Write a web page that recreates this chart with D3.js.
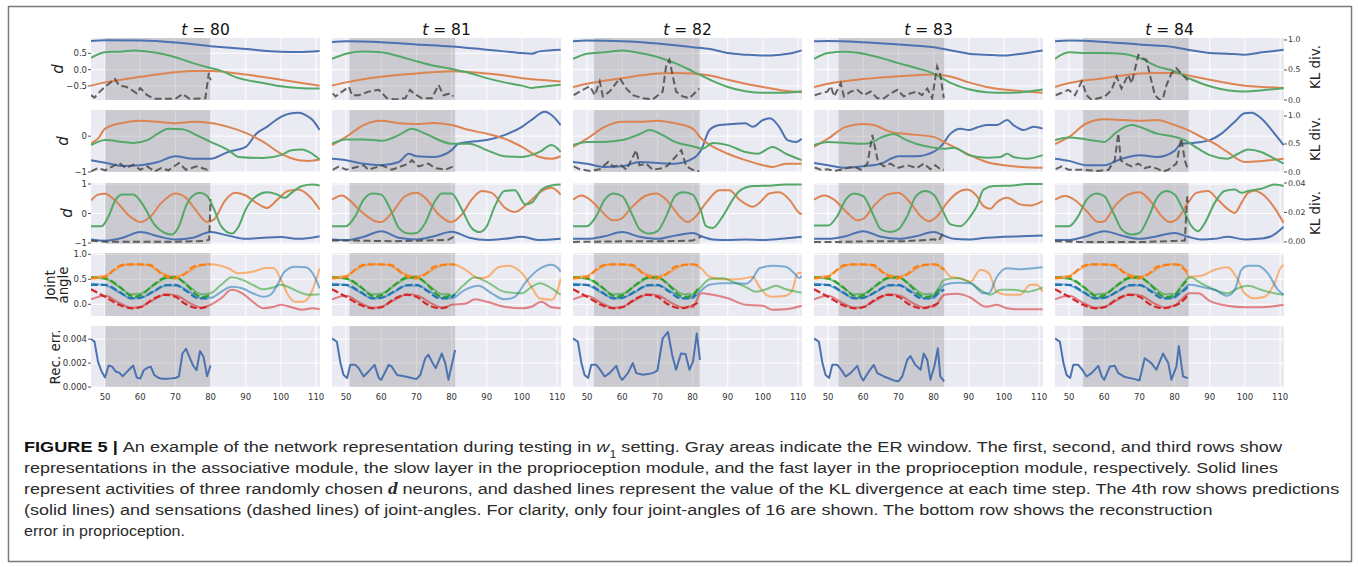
<!DOCTYPE html>
<html><head><meta charset="utf-8">
<script src="https://cdn.jsdelivr.net/npm/d3@7"></script>
<style>body{margin:0;background:#fff}svg{display:block}</style>
</head><body><svg id="c" width="1358" height="567"></svg>
<script>
// ---------- column labels ----------
const tValues = [80, 81, 82, 83, 84];
const xTicks = [50, 60, 70, 80, 90, 100, 110];
const leftTicks = [[-0.5, 0, 0.5], [-1, 0], [-1, 0, 1], [0, 0.5, 1.0], [0, 0.002, 0.004]];
const rightTicks = [[0, 0.5, 1.0], [0, 0.5, 1.0], [0, 0.02, 0.04]];

// ---------- t = 80 ----------
const a80Blue = [[46,0.88],[50,0.9],[60,0.89],[70,0.83],[80,0.72],[90,0.63],[100,0.55],[105,0.54],[111,0.57]];
const a80Orange = [[46,-0.49],[50,-0.39],[60,-0.22],[70,-0.08],[75,-0.04],[80,-0.04],[90,-0.15],[100,-0.31],[111,-0.49]];
const a80Green = [[46,0.36],[50,0.53],[55,0.56],[58,0.59],[65,0.51],[70,0.38],[75,0.2],[80,0.05],[82,0],[88,-0.26],[95,-0.41],[100,-0.51],[105,-0.56],[111,-0.58]];
const a80KL = [[46,0.08],[47,0.04],[48,0.11],[50,0.22],[52.8,0.35],[54,0.24],[56,0.22],[57,0.19],[59,0.11],[60,0.2],[62,0.08],[64,0.02],[70,0.02],[72,0.1],[74,0.02],[78.5,0.03],[79.5,0.45],[80,0.33]];
const s80Blue = [[46,-0.67],[50,-0.74],[55,-0.83],[60,-0.81],[65,-0.72],[70,-0.56],[75,-0.63],[80,-0.63],[85,-0.44],[90,-0.3],[93,0.07],[96,0.26],[100,0.54],[103,0.64],[105,0.65],[107,0.59],[109,0.45],[111,0.17]];
const s80Orange = [[46,-0.2],[48,-0.07],[50,0.21],[55,0.37],[60,0.43],[65,0.4],[70,0.36],[75,0.4],[80,0.37],[85,0.26],[90,0.09],[95,-0.16],[100,-0.49],[105,-0.67],[108,-0.69],[111,-0.65]];
const s80Green = [[46,-0.25],[48,-0.16],[50,-0.11],[55,-0.16],[58,-0.19],[62,-0.11],[65,0.07],[68,0.21],[72,0.19],[76,0.03],[80,-0.16],[85,-0.39],[88,-0.58],[95,-0.61],[100,-0.53],[103,-0.39],[106,-0.37],[108,-0.44],[111,-0.65]];
const s80KL = [[46,0.01],[48,0.07],[50,0.03],[54,0.16],[56,0.07],[58,0.13],[60,0.04],[62,0.1],[64,0.01],[66,0.07],[68,0.03],[71,0.16],[73,0.04],[76,0.1],[79,0.04],[80,0.07]];
const f80Blue = [[46,-0.88],[50,-0.92],[55,-0.82],[60,-0.63],[65,-0.77],[70,-0.88],[75,-0.82],[80,-0.63],[85,-0.75],[90,-0.86],[95,-0.82],[100,-0.8],[105,-0.86],[111,-0.77]];
const f80Orange = [[46,0.44],[48,0.64],[50,0.67],[53,0.42],[57,-0.09],[60,-0.29],[63,-0.09],[66,0.36],[70,0.68],[73,0.53],[76,0.08],[79,-0.29],[81,-0.2],[84,0.42],[87,0.7],[90,0.61],[93,0.36],[96,0.19],[99,0.47],[102,0.76],[105,0.81],[108,0.59],[111,0.14]];
const f80Green = [[46,-0.43],[49,-0.43],[51,-0.09],[53,0.47],[55,0.64],[58,0.64],[61,0.25],[64,-0.37],[67,-0.66],[69,-0.71],[71,-0.43],[73,0.25],[75,0.61],[77,0.7],[79,0.59],[81,0.14],[83,-0.43],[86,-0.68],[88,-0.43],[90,0.14],[93,0.59],[96,0.72],[99,0.64],[101,0.53],[103,0.7],[106,0.93],[109,0.98],[111,0.95]];
const f80KL = [[46,0.0008],[50,0.0002],[60,0.0002],[70,0.0002],[78,0.0006],[79.6,0.0015],[80,0.029]];
const jp80Orange = [[80,0.8],[85,0.72],[88,0.62],[92,0.65],[96,0.73],[98,0.72],[100,0.49],[102,0.19],[104,0.05],[106,0.05],[108,0.15],[110,0.49],[111,0.72]];
const jp80Green = [[80,0.22],[83,0.39],[86,0.54],[89,0.49],[92,0.39],[95,0.3],[98,0.34],[100,0.39],[102,0.35],[105,0.25],[108,0.19],[111,0.2]];
const jp80Blue = [[80,0.13],[83,0.25],[86,0.35],[89,0.32],[92,0.22],[95,0.15],[97,0.19],[99,0.39],[101,0.65],[104,0.75],[107,0.74],[109,0.62],[111,0.32]];
const jp80Red = [[80,-0.01],[83,0.12],[86,0.29],[89,0.22],[92,0.05],[95,-0.08],[98,-0.05],[100,-0.01],[103,-0.06],[106,-0.11],[109,-0.08],[111,-0.1]];
const rec80 = [[46,0.004],[47,0.0038],[48,0.0021],[49,0.0013],[50,0.0008],[51,0.0018],[52,0.0017],[53,0.0013],[54,0.0012],[55,0.0009],[56,0.0012],[57,0.0015],[58,0.0018],[59,0.0008],[60,0.0007],[61,0.0014],[62,0.0016],[63,0.0017],[64,0.001],[65,0.0008],[66,0.0007],[68,0.0007],[70,0.00075],[71,0.0009],[72,0.0028],[73,0.0032],[74,0.0025],[75,0.0018],[76,0.0014],[77,0.003],[78,0.0025],[79,0.0009],[80,0.0018]];

// ---------- t = 81 ----------
const a81Blue = [[46,0.85],[50,0.87],[60,0.84],[70,0.77],[80,0.71],[90,0.61],[95,0.56],[100,0.51],[102.7,0.49],[105,0.56],[111,0.61]];
const a81Orange = [[46,-0.49],[50,-0.39],[60,-0.22],[70,-0.12],[80,-0.05],[85,-0.07],[90,-0.12],[95,-0.18],[100,-0.26],[105,-0.31],[111,-0.36]];
const a81Green = [[46,0.33],[50,0.49],[55,0.56],[60,0.53],[65,0.41],[70,0.26],[75,0.12],[80,0.02],[85,-0.1],[90,-0.26],[95,-0.39],[100,-0.49],[102.7,-0.56],[105,-0.53],[111,-0.46]];
const a81KL = [[46.2,0.11],[47,0.06],[48.4,0.12],[50.8,0.22],[51.7,0.08],[53.6,0.08],[56.4,0.14],[59.3,0.17],[61.6,0.03],[64,0.01],[66.8,0.03],[68.2,0.17],[69.2,0.11],[71.5,0.03],[74.4,0.03],[76.3,0.25],[77.7,0.08],[79.6,0.11],[80.5,0.06]];
const s81Blue = [[46,-0.63],[50,-0.67],[55,-0.77],[60,-0.81],[65,-0.72],[67.8,-0.49],[70,-0.56],[75,-0.58],[80,-0.39],[81.9,-0.21],[85,-0.16],[90,-0.11],[95,0.03],[100,0.26],[102.7,0.45],[106.5,0.68],[108.4,0.59],[111,0.31]];
const s81Orange = [[46,-0.25],[50,-0.02],[55,0.31],[60,0.43],[65,0.36],[70,0.34],[75,0.37],[80,0.31],[85,0.17],[90,0.07],[95,-0.07],[100,-0.3],[105,-0.58],[108.4,-0.63],[111,-0.56]];
const s81Green = [[46,-0.21],[50,-0.09],[55,-0.09],[60,-0.13],[65,0.03],[68.7,0.21],[72.5,0.07],[80,-0.21],[85,-0.21],[90,-0.39],[95,-0.56],[100,-0.58],[105,-0.44],[108.4,-0.25],[111,-0.44]];
const s81KL = [[46.2,0.04],[48,0.1],[50,0.04],[53.6,0.1],[55,0.12],[56.4,0.04],[60.2,0.12],[63,0.04],[67.8,0.15],[68.7,0.21],[70.6,0.1],[73.4,0.15],[75.3,0.07],[78.2,0.04],[80.5,0.1]];
const f81Blue = [[46,-0.88],[50,-0.9],[55,-0.79],[60,-0.6],[65,-0.82],[70,-0.88],[75,-0.77],[80,-0.62],[85,-0.82],[90,-0.9],[95,-0.86],[100,-0.79],[105,-0.9],[111,-0.86]];
const f81Orange = [[46,0.47],[48.8,0.61],[50.8,0.47],[53.6,0.14],[58.3,-0.26],[60,-0.29],[63,0.02],[66.8,0.59],[70,0.7],[72.5,0.53],[76.3,-0.03],[80,-0.29],[82.9,-0.03],[85.7,0.47],[88.6,0.76],[91.4,0.7],[95.2,0.19],[98,0.05],[101.8,0.36],[105.6,0.76],[108.4,0.87],[111,0.64]];
const f81Green = [[46,-0.43],[50,-0.43],[52.6,-0.09],[55,0.47],[57.4,0.68],[60,0.64],[62.6,0.14],[65,-0.49],[67.8,-0.68],[70,-0.66],[72.5,-0.32],[75,0.36],[77.2,0.68],[80,0.68],[82.9,0.14],[85.7,-0.49],[87.9,-0.63],[90,-0.43],[92.3,0.25],[95,0.76],[98,0.79],[100.9,0.31],[102.7,0.36],[105.6,0.81],[108.4,0.95],[111,0.98]];
const f81KL = [[46,0.0009],[53,0.0009],[63,0.0005],[72,0.0009],[79,0.0014],[80.7,0.0036]];
const jp81Orange = [[80,0.8],[81,0.79],[84,0.69],[87.6,0.52],[90,0.54],[93.3,0.74],[96.1,0.77],[100,0.62],[102.7,0.35],[105,0.12],[108.4,0.09],[110.3,0.32],[111,0.52]];
const jp81Green = [[80,0.17],[82.9,0.35],[86.7,0.54],[90,0.45],[95,0.25],[100,0.22],[102.7,0.35],[105,0.42],[108.4,0.32],[111,0.19]];
const jp81Blue = [[80,0.12],[83.8,0.29],[87.6,0.37],[91.4,0.22],[95,0.1],[98,0.15],[100.8,0.42],[104.6,0.69],[108.4,0.79],[110.3,0.72],[111,0.65]];
const jp81Red = [[80,-0.01],[83.8,0.01],[86.7,0.1],[90,0.05],[95,-0.05],[100,-0.08],[102.7,-0.05],[105.5,0.05],[108.4,-0.06],[111,-0.08]];
const rec81 = [[46,0.00406],[47.4,0.00378],[48.4,0.002],[49.3,0.001],[50.3,0.00075],[51.2,0.00185],[52.6,0.00185],[53.6,0.00157],[55,0.00088],[56.4,0.0013],[58.1,0.00185],[59.3,0.00075],[60,0.0006],[61.2,0.0013],[62.1,0.00185],[63,0.0017],[64.5,0.001],[66.8,0.00088],[68.7,0.00075],[70,0.00066],[71.1,0.001],[72.5,0.0024],[73.4,0.0027],[74.6,0.002],[75.5,0.00157],[77.2,0.0028],[78.2,0.002],[79.1,0.0006],[81,0.0031]];

// ---------- t = 82 ----------
const a82Blue = [[46,0.87],[50,0.89],[60,0.87],[70,0.8],[80,0.69],[85,0.63],[90,0.51],[95,0.46],[100,0.43],[105,0.46],[108.4,0.51],[111,0.59]];
const a82Orange = [[46,-0.53],[50,-0.43],[60,-0.26],[70,-0.12],[75,-0.1],[80,-0.12],[85,-0.18],[90,-0.31],[95,-0.43],[100,-0.53],[105,-0.63],[111,-0.69]];
const a82Green = [[46,0.33],[50,0.49],[55,0.53],[60,0.59],[65,0.51],[70,0.39],[75,0.2],[80,-0.05],[85,-0.31],[90,-0.53],[95,-0.66],[100,-0.71],[105,-0.71],[111,-0.66]];
const a82KL = [[46.2,0.08],[47.9,0.14],[50.8,0.23],[52.2,0.08],[53.6,0.31],[54.5,0.06],[56.4,0.14],[59.3,0.36],[61.2,0.19],[63,0.08],[65.9,0.03],[68.7,0.01],[71.5,0.14],[72.5,0.58],[73.4,0.67],[74.4,0.39],[75.3,0.14],[77.2,0.06],[79.1,0.03],[81.9,0.19]];
const s82Blue = [[46,-0.72],[50,-0.77],[55,-0.86],[60,-0.84],[65,-0.72],[70,-0.75],[75,-0.77],[80,-0.63],[82.4,-0.39],[84.8,0.17],[87.6,0.31],[91.4,0.34],[95,0.36],[97.1,0.26],[100,0.45],[102,0.5],[104.6,0.26],[107,-0.11],[109.4,-0.16],[111,-0.07]];
const s82Orange = [[46,-0.3],[50,-0.07],[55,0.26],[60,0.4],[65,0.4],[70,0.43],[75,0.36],[80,0.21],[82.9,-0.11],[85,-0.25],[90,-0.49],[95,-0.67],[100,-0.81],[102.7,-0.86],[106.5,-0.77],[111,-0.77]];
const s82Green = [[46,-0.25],[50,-0.16],[55,-0.16],[60,-0.11],[65,0.06],[67.8,0.17],[71.5,0.03],[75,-0.16],[80,-0.28],[82.9,-0.35],[85.7,-0.19],[90,-0.25],[95,-0.44],[98.5,-0.49],[102.7,-0.3],[106.5,-0.49],[111,-0.67]];
const s82KL = [[46.2,0.1],[47.9,0.05],[50.8,0.02],[53.6,0.05],[56,0.18],[57.4,0.1],[59.7,0.12],[61.2,0.04],[63,0.27],[64,0.39],[64.9,0.12],[66.8,0.15],[68.7,0.04],[71.5,0.07],[73,0.12],[76.8,0.39],[78.2,0.1],[80,0.04],[81.9,0.01]];
const f82Blue = [[46,-0.86],[50,-0.86],[55,-0.77],[60,-0.63],[65,-0.79],[70,-0.86],[75,-0.75],[80,-0.66],[82.9,-0.79],[85.7,-0.88],[90,-0.9],[95,-0.88],[100,-0.9],[105,-0.86],[111,-0.79]];
const f82Orange = [[46,0.47],[48.4,0.61],[50.8,0.47],[53.6,0.14],[57.4,-0.23],[59.3,-0.2],[63,0.25],[66.8,0.61],[69.7,0.68],[72.5,0.47],[76.3,-0.09],[78.6,-0.29],[81,-0.09],[83.8,0.36],[87.6,0.79],[90.5,0.79],[93.3,0.47],[97.1,0.23],[99,0.36],[101.8,0.68],[104.6,0.72],[107.5,0.47],[110.3,0.02],[111,-0.03]];
const f82Green = [[46,-0.43],[50,-0.43],[52.6,-0.09],[55,0.47],[57.4,0.68],[60,0.59],[62.6,0.02],[65,-0.54],[67.8,-0.68],[70,-0.6],[72.5,-0.09],[75,0.59],[77.2,0.72],[80,0.64],[82.4,0.08],[83.8,-0.43],[85.7,-0.49],[88.6,-0.09],[91.4,0.47],[93.3,0.76],[97.1,0.93],[102.7,0.95],[106.5,0.98],[111,0.98]];
const f82KL = [[46,0],[53,0.0002],[63,0.0005],[72,0.0005],[80,0.0009],[81.5,0.0025],[82.4,0.0036]];
const jp82Orange = [[80,0.8],[82.4,0.72],[84.8,0.55],[88.6,0.5],[92.3,0.5],[95,0.52],[97.1,0.55],[99,0.35],[100.9,0.19],[102.7,0.15],[106.5,0.17],[108.4,0.29],[109.8,0.62],[111,0.63]];
const jp82Green = [[80,0.19],[82,0.32],[84.8,0.5],[88.6,0.52],[91.4,0.45],[95,0.35],[98,0.25],[100.9,0.3],[103.7,0.37],[106.5,0.3],[111,0.23]];
const jp82Blue = [[80,0.12],[82,0.25],[84.8,0.39],[88.6,0.42],[92.3,0.42],[95.2,0.41],[97.1,0.52],[99,0.72],[102.7,0.77],[106.5,0.75],[108.9,0.62],[110.3,0.52],[111,0.57]];
const jp82Red = [[80,-0.06],[82.4,0.22],[85.7,0.19],[90,0.12],[95,-0.01],[100,-0.03],[102.7,-0.11],[106.5,-0.1],[111,-0.03]];
const rec82 = [[46,0.00406],[47.4,0.00378],[48.4,0.002],[49.3,0.001],[50.3,0.00075],[51.2,0.00185],[52.6,0.00185],[53.6,0.00149],[55,0.00088],[56.4,0.00116],[58.3,0.00177],[59.3,0.00088],[60,0.0006],[61.6,0.00116],[63,0.002],[64,0.00116],[65.9,0.00102],[68.7,0.00116],[70,0.00138],[71.5,0.00406],[73,0.0046],[74.2,0.00268],[75.3,0.00144],[76.7,0.0028],[78,0.00276],[79.1,0.00144],[80.1,0.00213],[81.2,0.00447],[82.1,0.00226]];

// ---------- t = 83 ----------
const a83Blue = [[46,0.87],[50,0.88],[60,0.84],[70,0.77],[80,0.69],[85,0.59],[90,0.49],[95,0.46],[100,0.43],[105,0.49],[111,0.59]];
const a83Orange = [[46,-0.53],[50,-0.43],[60,-0.29],[70,-0.2],[75,-0.17],[80,-0.15],[85,-0.22],[90,-0.39],[95,-0.53],[100,-0.61],[105,-0.66],[111,-0.71]];
const a83Green = [[46,0.33],[50,0.51],[55,0.55],[60,0.49],[65,0.36],[70,0.2],[75,0.05],[80,-0.12],[82.9,-0.29],[85,-0.41],[90,-0.6],[95,-0.69],[100,-0.71],[105,-0.69],[111,-0.61]];
const a83KL = [[46.2,0.08],[47.9,0.11],[49.8,0.14],[50.8,0.23],[51.7,0.06],[53.6,0.28],[54.5,0.06],[56.4,0.14],[58.3,0.17],[60.2,0.08],[62.1,0.14],[64,0.03],[65.9,0.03],[67.8,0.11],[69.7,0.17],[71.5,0.06],[73.4,0.11],[75.3,0.14],[76.7,0.08],[78.2,0.19],[79.6,0.03],[81,0.56],[81.9,0.42],[82.9,0.03]];
const s83Blue = [[46,-0.75],[50,-0.81],[55,-0.88],[60,-0.84],[65,-0.77],[67.8,-0.63],[70,-0.56],[75,-0.56],[80,-0.44],[82.4,-0.25],[84.8,0.07],[87.6,0.21],[90,0.17],[92.3,0.24],[95,0.31],[98,0.31],[100.9,0.45],[102.7,0.31],[105.6,0.17],[108.4,0.26],[111,0.21]];
const s83Orange = [[46,-0.3],[50,-0.07],[55,0.26],[60,0.34],[63,0.31],[67.8,0.12],[72.5,0.06],[80,-0.02],[83.8,-0.21],[87.6,-0.39],[91.4,-0.58],[95,-0.72],[100,-0.81],[105,-0.86],[111,-0.88]];
const s83Green = [[46,-0.25],[50,-0.16],[55,-0.19],[60,-0.21],[62.1,-0.19],[65,-0.04],[68.7,0.06],[71.5,-0.07],[75,-0.21],[80,-0.32],[82.9,-0.35],[85.7,-0.32],[90,-0.53],[95,-0.6],[99,-0.58],[100.9,-0.49],[102.7,-0.58],[106.5,-0.63],[111,-0.53]];
const s83KL = [[46.2,0.08],[47.9,0.04],[49.8,0.05],[51.7,0.02],[53.6,0.04],[57.4,0.1],[59.3,0.04],[61.2,0.15],[62.6,0.66],[63.5,0.39],[64.2,0.18],[65.9,0.1],[67.8,0.15],[69.7,0.07],[72.5,0.12],[75.3,0.07],[77.2,0.15],[79.1,0.05],[80.5,0.12],[81.9,0.05],[82.9,0.04]];
const f83Blue = [[46,-0.86],[50,-0.86],[55,-0.77],[60,-0.6],[65,-0.79],[70,-0.86],[75,-0.77],[80,-0.63],[83.3,-0.77],[85.7,-0.86],[90,-0.88],[95,-0.82],[100,-0.79],[105,-0.77],[111,-0.75]];
const f83Orange = [[46,0.47],[48.9,0.61],[51.7,0.47],[55,0.08],[58.3,-0.23],[60,-0.18],[63,0.25],[66.8,0.64],[70,0.7],[73.4,0.36],[76.3,-0.09],[78.6,-0.26],[81,-0.09],[83.8,0.36],[86.7,0.7],[89.5,0.81],[92.3,0.59],[94.2,0.25],[96.1,0.16],[98,0.38],[100.9,0.53],[104.6,0.31],[107.5,0.27],[111,0.42]];
const f83Green = [[46,-0.41],[50,-0.41],[52.6,-0.09],[55,0.47],[57.4,0.68],[60,0.59],[62.6,0.02],[65,-0.54],[67.8,-0.63],[70,-0.54],[72.5,-0.09],[75,0.59],[77.7,0.76],[80,0.64],[82.4,0.14],[84.8,-0.37],[87.6,-0.43],[90.5,-0.09],[92.3,0.25],[94.2,0.81],[97.1,0.93],[102.7,0.95],[106.5,1.0],[111,1.0]];
const f83KL = [[46,0],[53,0],[63,0.0005],[72,0.0005],[78.2,0.0014],[80.1,0.0018],[81.5,0.0009],[82.4,0.0047],[83.1,0.0032]];
const jp83Orange = [[80,0.8],[83.1,0.69],[84.8,0.55],[87.6,0.52],[90.5,0.45],[93.3,0.69],[95.7,0.62],[98,0.25],[100.9,0.19],[104.6,0.19],[107.5,0.39],[109.4,0.39],[111,0.25]];
const jp83Green = [[80,0.19],[83.1,0.49],[86.7,0.52],[90,0.45],[93.3,0.29],[96.1,0.19],[99,0.29],[102.7,0.29],[106.5,0.25],[111,0.34]];
const jp83Blue = [[80,0.12],[83.1,0.39],[86.7,0.43],[90.5,0.42],[94.2,0.22],[95.7,0.22],[98,0.55],[100.9,0.72],[104.6,0.7],[108.4,0.72],[111,0.74]];
const jp83Red = [[80,-0.05],[83.1,0.19],[86.7,0.21],[90,0.15],[95,-0.05],[98,-0.01],[100.9,-0.08],[104.6,-0.1],[111,-0.1]];
const rec83 = [[46,0.00406],[47.4,0.00378],[48.4,0.002],[49.3,0.001],[50.3,0.00075],[51.2,0.00185],[52.6,0.00185],[53.6,0.00149],[55,0.00088],[56.4,0.00116],[58.3,0.00177],[59.3,0.00088],[60,0.00055],[61.6,0.0013],[63,0.00185],[64,0.00116],[65.9,0.00088],[68.7,0.00055],[70,0.00047],[71.1,0.00088],[72.5,0.00226],[73.4,0.00259],[74.8,0.00185],[76.3,0.00144],[77.2,0.0028],[78.2,0.00226],[79.1,0.00061],[80.2,0.00171],[81.2,0.00323],[81.9,0.00088],[83,0.00047]];

// ---------- t = 84 ----------
const a84Blue = [[46,0.87],[50,0.89],[60,0.85],[70,0.77],[80,0.69],[85,0.59],[90,0.51],[95,0.49],[100,0.46],[105,0.53],[111,0.61]];
const a84Orange = [[46,-0.53],[50,-0.41],[60,-0.26],[70,-0.12],[75,-0.1],[80,-0.1],[85,-0.2],[90,-0.31],[95,-0.41],[100,-0.49],[105,-0.53],[111,-0.56]];
const a84Green = [[46,0.33],[50,0.53],[55,0.51],[60,0.51],[65,0.49],[70,0.36],[75,0.1],[80,-0.05],[85,-0.31],[90,-0.51],[95,-0.63],[100,-0.67],[105,-0.63],[111,-0.57]];
const a84KL = [[46.2,0.08],[47.9,0.12],[49.8,0.17],[51.7,0.08],[53.6,0.31],[55,0.08],[56.4,0],[58.3,0.03],[60.2,0.06],[62.1,0.17],[63.5,0.39],[64.9,0.19],[66.8,0.42],[67.8,0.28],[69.7,0.75],[71.1,0.69],[72,0.67],[72.9,0.44],[74.4,0.08],[75.8,0],[76.7,0.03],[77.7,0.25],[79.1,0.44],[80.5,0.53],[81.9,0.44],[83.8,0.33]];
const s84Blue = [[46,-0.63],[50,-0.69],[55,-0.81],[60,-0.81],[65,-0.63],[67.8,-0.56],[70,-0.53],[75,-0.58],[80,-0.41],[81.9,-0.21],[85,-0.19],[90,-0.11],[93.3,0.07],[97.1,0.4],[99.9,0.64],[101.8,0.65],[104.6,0.5],[108.4,0.07],[111,-0.25]];
const s84Orange = [[46,-0.22],[50,-0.02],[55,0.36],[60,0.47],[65,0.45],[70,0.43],[75,0.45],[80,0.31],[83.8,0.17],[87.6,-0.02],[91.4,-0.21],[95,-0.44],[100,-0.72],[105,-0.69],[111,-0.63]];
const s84Green = [[46,-0.11],[50,-0.04],[55,-0.09],[60,-0.16],[63,0.07],[65,0.21],[67.8,0.31],[70,0.26],[75,0.07],[80,-0.02],[82.9,-0.11],[86.7,-0.35],[90,-0.53],[95,-0.63],[98,-0.49],[100.9,-0.37],[104.6,-0.44],[108.4,-0.63],[111,-0.77]];
const s84KL = [[46.2,0.05],[47.9,0.1],[49.8,0.04],[53.6,0.04],[58.3,0.02],[61.2,0.04],[63,0.21],[64,0.69],[64.7,0.21],[65.9,0.15],[67.8,0.1],[69.7,0.15],[71.5,0.07],[73.4,0.1],[75.3,0.05],[76.7,0.01],[78.2,0.04],[80.5,0.15],[81.9,0.6],[82.9,0.21],[83.8,0.04]];
const f84Blue = [[46,-0.9],[50,-0.9],[55,-0.77],[60,-0.6],[65,-0.75],[70,-0.86],[75,-0.77],[80,-0.66],[83.8,-0.79],[87.6,-0.88],[91.4,-0.86],[95,-0.79],[100,-0.88],[103.7,-0.86],[107.5,-0.77],[111,-0.45]];
const f84Orange = [[46,0.47],[48.9,0.59],[51.7,0.45],[55,0.08],[58.3,-0.29],[60,-0.26],[63,0.25],[66.8,0.64],[70,0.72],[73.4,0.38],[76.3,-0.09],[78.6,-0.29],[81,-0.15],[83.8,0.36],[86.2,0.7],[89.5,0.76],[92.3,0.47],[95.2,0.14],[97.1,0.02],[99,0.36],[100.9,0.7],[102.7,0.77],[105.6,0.59],[108.4,0.19],[111,-0.32]];
const f84Green = [[46,-0.43],[50,-0.43],[52.6,-0.09],[55,0.47],[57.8,0.68],[60,0.59],[62.6,0.02],[65,-0.54],[67.8,-0.71],[70,-0.66],[72.5,-0.15],[75,0.53],[77.7,0.76],[80,0.64],[82.4,0.14],[84.8,-0.43],[86.7,-0.6],[88.6,-0.32],[91.4,0.36],[94.2,0.76],[97.1,0.81],[99,0.7],[100.9,0.76],[104.6,0.84],[108.4,0.98],[111,0.93]];
const f84KL = [[46,0.0005],[53,0],[63,0],[72,0],[80,0.0007],[82.9,0.0009],[83.6,0.031],[83.8,0.027]];
const jp84Orange = [[80,0.8],[82,0.78],[84.3,0.55],[87.6,0.57],[91.4,0.69],[95,0.74],[98,0.49],[99.9,0.22],[102.7,0.12],[105.6,0.15],[108.4,0.42],[110.3,0.75],[111,0.78]];
const jp84Green = [[80,0.2],[82,0.38],[84.3,0.54],[87.6,0.42],[91.4,0.29],[95,0.22],[98,0.32],[100.9,0.37],[104.6,0.29],[108.4,0.22],[111,0.19]];
const jp84Blue = [[80,0.13],[82,0.26],[84.3,0.39],[87.6,0.35],[91.4,0.29],[95,0.17],[97.1,0.29],[99,0.69],[100.9,0.77],[103.7,0.77],[106.5,0.62],[109.4,0.29],[111,0.19]];
const jp84Red = [[80,-0.03],[82,0.1],[84.3,0.22],[86.7,0.22],[90,0.07],[95,-0.03],[100,-0.06],[104.6,-0.06],[111,-0.01]];
const rec84 = [[46,0.00406],[47.4,0.00378],[48.4,0.002],[49.3,0.001],[50.3,0.00075],[51.2,0.00185],[52.6,0.00185],[53.6,0.00149],[55,0.00088],[56.4,0.00116],[58.3,0.00177],[59.3,0.00088],[60,0.0006],[61.6,0.00171],[63,0.00177],[64,0.00116],[65.9,0.00083],[68.7,0.00066],[70,0.00055],[71.5,0.0024],[73.4,0.002],[74.8,0.00144],[76.7,0.0028],[78.2,0.002],[79.1,0.00061],[80.5,0.00171],[81.2,0.00342],[82.4,0.00088],[83.8,0.00074]];

// ---------- shared joint-angle sensations (dashed) and in-window predictions ----------
const sensOrange = [[46,0.52],[50,0.55],[53.6,0.75],[56.3,0.8],[62.7,0.79],[66.4,0.59],[69.8,0.52],[72.3,0.59],[75,0.75],[78,0.79],[80,0.8],[81,0.79],[82,0.74],[83,0.69],[84,0.62]];
const sensGreen = [[46,0.54],[50,0.52],[54,0.36],[57.3,0.17],[58.5,0.15],[60,0.18],[64,0.4],[67,0.53],[70,0.54],[73,0.4],[76.5,0.17],[78,0.15],[80,0.19],[82,0.36],[84,0.52]];
const sensBlue = [[46,0.39],[50,0.39],[54,0.25],[57.5,0.12],[60,0.13],[64,0.27],[67,0.38],[70,0.39],[73,0.27],[76.5,0.12],[79,0.12],[81,0.2],[83,0.3],[84,0.36]];
const sensRed = [[46,0.3],[50,0.15],[54,-0.01],[57.5,-0.08],[60,-0.06],[64,0.12],[67,0.19],[70,0.15],[73,0.0],[76.5,-0.08],[79,-0.05],[82,0.05],[84,0.2]];
const predPastOrange = [[46,0.54],[50,0.57],[53,0.7],[56,0.79],[60,0.8],[63,0.76],[66,0.63],[70,0.56],[73,0.62],[76,0.75],[79,0.8]];
const predPastGreen = [[46,0.53],[50,0.51],[54,0.35],[57.5,0.2],[60,0.21],[64,0.39],[67.5,0.52],[70.5,0.52],[74,0.35],[77.5,0.2],[79,0.21]];
const predPastBlue = [[46,0.41],[50,0.38],[54,0.24],[57.5,0.12],[60,0.13],[64,0.26],[67.5,0.38],[70.5,0.37],[74,0.25],[77.5,0.12],[79,0.13]];
const predPastRed = [[46,0.1],[50,0.17],[54,0.03],[57.5,-0.07],[60,-0.05],[64,0.1],[67.5,0.2],[70.5,0.17],[74,0.03],[77.5,-0.07],[79,-0.04]];

// ---------- assemble ----------
const columns = [
  {t:80, a:[a80Blue,a80Orange,a80Green], aKL:a80KL, s:[s80Blue,s80Orange,s80Green], sKL:s80KL, f:[f80Blue,f80Orange,f80Green], fKL:f80KL, jp:[jp80Blue,jp80Orange,jp80Green,jp80Red], rec:rec80},
  {t:81, a:[a81Blue,a81Orange,a81Green], aKL:a81KL, s:[s81Blue,s81Orange,s81Green], sKL:s81KL, f:[f81Blue,f81Orange,f81Green], fKL:f81KL, jp:[jp81Blue,jp81Orange,jp81Green,jp81Red], rec:rec81},
  {t:82, a:[a82Blue,a82Orange,a82Green], aKL:a82KL, s:[s82Blue,s82Orange,s82Green], sKL:s82KL, f:[f82Blue,f82Orange,f82Green], fKL:f82KL, jp:[jp82Blue,jp82Orange,jp82Green,jp82Red], rec:rec82},
  {t:83, a:[a83Blue,a83Orange,a83Green], aKL:a83KL, s:[s83Blue,s83Orange,s83Green], sKL:s83KL, f:[f83Blue,f83Orange,f83Green], fKL:f83KL, jp:[jp83Blue,jp83Orange,jp83Green,jp83Red], rec:rec83},
  {t:84, a:[a84Blue,a84Orange,a84Green], aKL:a84KL, s:[s84Blue,s84Orange,s84Green], sKL:s84KL, f:[f84Blue,f84Orange,f84Green], fKL:f84KL, jp:[jp84Blue,jp84Orange,jp84Green,jp84Red], rec:rec84}
];
const sens = [sensBlue, sensOrange, sensGreen, sensRed];
const predPast = [predPastBlue, predPastOrange, predPastGreen, predPastRed];

// ---------- layout & style ----------
const svg = d3.select('#c');
const deep = ['#4C72B0', '#DD8452', '#55A868'];
const tab = ['#1f77b4', '#ff7f0e', '#2ca02c', '#d62728'];
const colX0 = [91, 332, 573, 814, 1055], plotW = 229;
const rowsY = [[38,100],[110,172],[183,244],[253,316],[326,387]];
const leftDomains = [[-0.93,0.97],[-1.0,0.73],[-1.034,1.034],[-0.234,1.026],[0,0.0051]];
const rightDomains = [[0,1.033],[0,1.107],[-0.0014,0.04]];
const leftFmt = [d3.format('.1f'), d3.format('d'), d3.format('d'), d3.format('.1f'), d3.format('.3f')];
const rightFmt = [d3.format('.1f'), d3.format('.1f'), d3.format('.2f')];
const tickFont = 'DejaVu Sans, sans-serif';

svg.append('rect').attr('x', 8.5).attr('y', 6.5).attr('width', 1343).attr('height', 555)
  .attr('fill', 'none').attr('stroke', '#7a7a7a').attr('stroke-width', 1.5);

const defs = svg.append('defs');

function panel(c, r) {
  const col = columns[c];
  const x0 = colX0[c], [y0, y1] = rowsY[r];
  const x = d3.scaleLinear([46, 111.1], [x0, x0 + plotW]);
  const y = d3.scaleLinear(leftDomains[r], [y1, y0]);
  const id = 'clip' + c + '_' + r;
  defs.append('clipPath').attr('id', id).append('rect').attr('x', x0).attr('y', y0).attr('width', plotW).attr('height', y1 - y0);
  const g = svg.append('g');
  g.append('rect').attr('x', x0).attr('y', y0).attr('width', plotW).attr('height', y1 - y0).attr('fill', '#EAEAF2');
  const gr = g.append('g').attr('stroke', '#fff').attr('stroke-width', 1);
  xTicks.forEach(v => gr.append('line').attr('x1', x(v)).attr('x2', x(v)).attr('y1', y0).attr('y2', y1));
  leftTicks[r].forEach(v => gr.append('line').attr('x1', x0).attr('x2', x0 + plotW).attr('y1', y(v)).attr('y2', y(v)));
  g.append('rect').attr('x', x(col.t - 30)).attr('y', y0).attr('width', x(col.t) - x(col.t - 30)).attr('height', y1 - y0)
    .attr('fill', 'gray').attr('opacity', 0.3);
  const lines = g.append('g').attr('clip-path', `url(#${id})`).attr('fill', 'none');
  const smooth = d3.line().x(d => x(d[0])).y(d => y(d[1])).curve(d3.curveMonotoneX);
  const rawLine = d3.line().x(d => x(d[0])).y(d => y(d[1]));
  if (r < 3) {
    const key = ['a', 's', 'f'][r];
    [0, 1, 2].forEach(i => lines.append('path').attr('d', smooth(col[key][i])).attr('stroke', deep[i]).attr('stroke-width', 2));
    const yk = d3.scaleLinear(rightDomains[r], [y1, y0]);
    const klLine = d3.line().x(d => x(d[0])).y(d => yk(d[1]));
    lines.append('path').attr('d', klLine(col[key + 'KL'])).attr('stroke', '#4a4a4a').attr('stroke-opacity', 0.85)
      .attr('stroke-width', 2).attr('stroke-dasharray', '7,3.5');
    if (c === 4) {
      const ax = svg.append('g').attr('font-family', tickFont).attr('font-size', 7.8).attr('fill', '#333');
      rightTicks[r].forEach(v => {
        ax.append('line').attr('x1', x0 + plotW).attr('x2', x0 + plotW + 3).attr('y1', yk(v)).attr('y2', yk(v)).attr('stroke', '#555');
        ax.append('text').attr('x', x0 + plotW + 4).attr('y', yk(v)).attr('dominant-baseline', 'central').text(rightFmt[r](v));
      });
      svg.append('text').attr('transform', `translate(1315,${[67, 139, 213][r]}) rotate(-90)`).attr('text-anchor', 'middle')
        .attr('dominant-baseline', 'central').attr('font-family', tickFont).attr('font-size', 13.4).attr('fill', '#222').text('KL div.');
    }
  } else if (r === 3) {
    [1, 2, 0, 3].forEach(i => {
      const pts = predPast[i].concat(col.jp[i]);
      lines.append('path').attr('d', smooth(pts)).attr('stroke', tab[i]).attr('stroke-opacity', 0.55).attr('stroke-width', 2);
    });
    [0, 2, 1, 3].forEach(i => {
      const pts = sens[i].filter(d => d[0] <= col.t + 0.001);
      lines.append('path').attr('d', smooth(pts)).attr('stroke', tab[i]).attr('stroke-width', 2.2).attr('stroke-dasharray', '7,3');
    });
  } else {
    lines.append('path').attr('d', rawLine(col.rec)).attr('stroke', deep[0]).attr('stroke-width', 2).attr('stroke-linejoin', 'round');
    const ax = svg.append('g').attr('font-family', tickFont).attr('font-size', 8.5).attr('fill', '#333').attr('text-anchor', 'middle');
    xTicks.forEach(v => ax.append('text').attr('x', x(v)).attr('y', 399.5).text(v));
  }
  if (c === 0) {
    const ax = svg.append('g').attr('font-family', tickFont).attr('font-size', 8.5).attr('fill', '#333').attr('text-anchor', 'end');
    leftTicks[r].forEach(v => {
      ax.append('line').attr('x1', x0 - 3).attr('x2', x0).attr('y1', y(v)).attr('y2', y(v)).attr('stroke', '#555');
      ax.append('text').attr('x', x0 - 4).attr('y', y(v)).attr('dominant-baseline', 'central').text(leftFmt[r](v));
    });
  }
}

for (let c = 0; c < 5; c++) {
  for (let r = 0; r < 5; r++) panel(c, r);
  const cx = colX0[c] + plotW / 2;
  const tt = svg.append('text').attr('x', cx).attr('y', 35).attr('text-anchor', 'middle')
    .attr('font-family', 'DejaVu Sans, sans-serif').attr('font-size', 15.5).attr('fill', '#111');
  tt.append('tspan').attr('font-style', 'italic').text('t');
  tt.append('tspan').text(' = ' + tValues[c]);
}

// y-axis labels (first column)
const yl = svg.append('g').attr('font-family', 'DejaVu Sans, sans-serif').attr('fill', '#222').attr('text-anchor', 'middle').attr('dominant-baseline', 'central');
[[58, 69], [63, 141], [67, 213]].forEach(([xx, yy]) =>
  yl.append('text').attr('transform', `translate(${xx},${yy}) rotate(-90)`).attr('font-size', 15).attr('font-style', 'italic').text('d'));
yl.append('text').attr('transform', 'translate(50,285) rotate(-90)').attr('font-size', 13.4).text('Joint');
yl.append('text').attr('transform', 'translate(63,285) rotate(-90)').attr('font-size', 13.4).text('angle');
yl.append('text').attr('transform', 'translate(55,357) rotate(-90)').attr('font-size', 13.4).text('Rec. err.');

// ---------- caption ----------
const capFont = "'Liberation Sans Narrow', 'Arial Narrow', 'Liberation Sans', Arial, sans-serif";
const capLines = [
  {y: 452, end: 1283, parts: [{t: 'FIGURE 5 | ', b: true}, {t: 'An example of the network representation during testing in '}, {t: 'w', i: true}, {t: '1', sub: true}, {t: ' setting. Gray areas indicate the ER window. The first, second, and third rows show'}]},
  {y: 473, end: 1279, parts: [{t: 'representations in the associative module, the slow layer in the proprioception module, and the fast layer in the proprioception module, respectively. Solid lines'}]},
  {y: 494, end: 1340, parts: [{t: 'represent activities of three randomly chosen '}, {t: 'd', serif: true}, {t: ' neurons, and dashed lines represent the value of the KL divergence at each time step. The 4th row shows predictions'}]},
  {y: 515, end: 1213, parts: [{t: '(solid lines) and sensations (dashed lines) of joint-angles. For clarity, only four joint-angles of 16 are shown. The bottom row shows the reconstruction'}]},
  {y: 536, end: 185, parts: [{t: 'error in proprioception.'}]}
];
capLines.forEach(L => {
  const tx = svg.append('text').attr('x', 0).attr('y', 0).attr('font-family', capFont).attr('font-size', 15.5).attr('fill', '#2a2a2a');
  L.parts.forEach(p => {
    const s = tx.append('tspan').text(p.t);
    if (p.b) s.attr('font-weight', 'bold').attr('fill', '#111');
    if (p.i) s.attr('font-style', 'italic');
    if (p.sub) s.attr('font-size', 10.5).attr('baseline-shift', 'sub');
    if (p.serif) s.attr('font-family', "'Liberation Serif', 'Times New Roman', serif").attr('font-weight', 'bold').attr('font-style', 'italic').attr('font-size', 16.5);
  });
  const len = tx.node().getComputedTextLength();
  const k = (L.end - 24) / len;
  tx.attr('transform', `translate(24,${L.y}) scale(${k},1)`);
});
</script></body></html>
